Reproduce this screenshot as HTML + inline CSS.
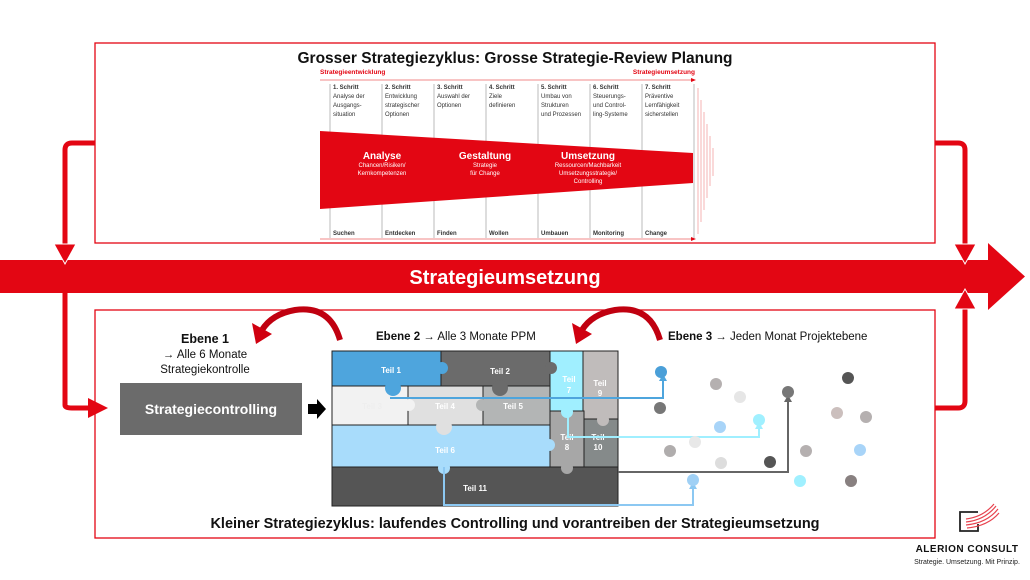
<!DOCTYPE html>
<html><head><meta charset="utf-8"><style>
html,body{margin:0;padding:0;background:#fff;}
svg{display:block;font-family:"Liberation Sans",Arial,sans-serif;}
</style></head><body>
<svg width="1030" height="580" viewBox="0 0 1030 580" xmlns="http://www.w3.org/2000/svg">
<!-- boxes -->
<rect x="95" y="43" width="840" height="200" fill="none" stroke="#e30613" stroke-width="1.3"/>
<rect x="95" y="310" width="840" height="228" fill="none" stroke="#e30613" stroke-width="1.3"/>
<!-- banner -->
<rect x="0" y="260" width="990" height="33" fill="#e30613"/>
<polygon points="988,243 1025,276.5 988,310" fill="#e30613"/>
<text x="505" y="284" text-anchor="middle" fill="#fff" font-weight="bold" font-size="20">Strategieumsetzung</text>
<!-- left connector -->
<path d="M95,143 H72 Q65,143 65,150 V405 Q65,408 72,408 H90" fill="none" stroke="#e30613" stroke-width="5"/>
<polygon points="54,244 76,244 65,264" fill="#e30613" stroke="#fff" stroke-width="1"/>
<polygon points="88,398 108,408 88,418" fill="#e30613"/>
<!-- right connectors -->
<path d="M935,143 H958 Q965,143 965,150 V248" fill="none" stroke="#e30613" stroke-width="5"/>
<polygon points="954,244 976,244 965,264" fill="#e30613" stroke="#fff" stroke-width="1"/>
<path d="M935,408 H958 Q965,408 965,401 V305" fill="none" stroke="#e30613" stroke-width="5"/>
<polygon points="954,309 976,309 965,289" fill="#e30613" stroke="#fff" stroke-width="1"/>
<!-- top title -->
<text x="515" y="63" text-anchor="middle" font-weight="bold" font-size="15.5" fill="#111">Grosser Strategiezyklus: Grosse Strategie-Review Planung</text>
<text x="320" y="74" font-size="6.5" font-weight="bold" fill="#e30613">Strategieentwicklung</text>
<text x="695" y="74" text-anchor="end" font-size="6.5" font-weight="bold" fill="#e30613">Strategieumsetzung</text>
<line x1="320" y1="80" x2="693" y2="80" stroke="#f08a8a" stroke-width="1"/>
<polygon points="691,78 696,80 691,82" fill="#e30613"/>
<line x1="320" y1="239" x2="693" y2="239" stroke="#f08a8a" stroke-width="1"/>
<polygon points="691,237 696,239 691,241" fill="#e30613"/>
<g stroke="#bbb" stroke-width="1">
<line x1="330" y1="84" x2="330" y2="238"/><line x1="382" y1="84" x2="382" y2="238"/><line x1="434" y1="84" x2="434" y2="238"/><line x1="486" y1="84" x2="486" y2="238"/><line x1="538" y1="84" x2="538" y2="238"/><line x1="590" y1="84" x2="590" y2="238"/><line x1="642" y1="84" x2="642" y2="238"/><line x1="694" y1="84" x2="694" y2="238"/>
</g>
<g stroke="#f4a0a0" stroke-width="0.8">
<line x1="698" y1="88" x2="698" y2="234"/><line x1="701" y1="100" x2="701" y2="222"/><line x1="704" y1="112" x2="704" y2="210"/><line x1="707" y1="124" x2="707" y2="198"/><line x1="710" y1="136" x2="710" y2="186"/><line x1="713" y1="148" x2="713" y2="176"/>
</g>
<g font-size="6" fill="#333">
<g font-weight="bold"><text x="333" y="89">1. Schritt</text><text x="385" y="89">2. Schritt</text><text x="437" y="89">3. Schritt</text><text x="489" y="89">4. Schritt</text><text x="541" y="89">5. Schritt</text><text x="593" y="89">6. Schritt</text><text x="645" y="89">7. Schritt</text></g>
<text x="333" y="98">Analyse der</text><text x="333" y="107">Ausgangs-</text><text x="333" y="116">situation</text>
<text x="385" y="98">Entwicklung</text><text x="385" y="107">strategischer</text><text x="385" y="116">Optionen</text>
<text x="437" y="98">Auswahl der</text><text x="437" y="107">Optionen</text>
<text x="489" y="98">Ziele</text><text x="489" y="107">definieren</text>
<text x="541" y="98">Umbau von</text><text x="541" y="107">Strukturen</text><text x="541" y="116">und Prozessen</text>
<text x="593" y="98">Steuerungs-</text><text x="593" y="107">und Control-</text><text x="593" y="116">ling-Systeme</text>
<text x="645" y="98">Präventive</text><text x="645" y="107">Lernfähigkeit</text><text x="645" y="116">sicherstellen</text>
<g font-weight="bold"><text x="333" y="235">Suchen</text><text x="385" y="235">Entdecken</text><text x="437" y="235">Finden</text><text x="489" y="235">Wollen</text><text x="541" y="235">Umbauen</text><text x="593" y="235">Monitoring</text><text x="645" y="235">Change</text></g>
</g>
<polygon points="320,131 693,153 693,183 320,209" fill="#e30613"/>
<g fill="#fff" text-anchor="middle">
<text x="382" y="159" font-size="10" font-weight="bold">Analyse</text>
<text x="382" y="167" font-size="6">Chancen/Risiken/</text><text x="382" y="175" font-size="6">Kernkompetenzen</text>
<text x="485" y="159" font-size="10" font-weight="bold">Gestaltung</text>
<text x="485" y="167" font-size="6">Strategie</text><text x="485" y="175" font-size="6">für Change</text>
<text x="588" y="159" font-size="10" font-weight="bold">Umsetzung</text>
<text x="588" y="167" font-size="6">Ressourcen/Machbarkeit</text><text x="588" y="175" font-size="6">Umsetzungsstrategie/</text><text x="588" y="183" font-size="6">Controlling</text>
</g>
<!-- Ebene texts -->
<text x="205" y="343" text-anchor="middle" font-weight="bold" font-size="12.5" fill="#111">Ebene 1</text>
<text x="205" y="358" text-anchor="middle" font-size="11.5" fill="#111">→ Alle 6 Monate</text>
<text x="205" y="373" text-anchor="middle" font-size="11.5" fill="#111">Strategiekontrolle</text>
<text x="376" y="340" font-size="11.5" fill="#111"><tspan font-weight="bold">Ebene 2</tspan> → Alle 3 Monate PPM</text>
<text x="668" y="340" font-size="11.5" fill="#111"><tspan font-weight="bold">Ebene 3</tspan> → Jeden Monat Projektebene</text>
<!-- curved arrows -->
<path d="M340,340 Q330,305 295,310 Q272,314 262,330" fill="none" stroke="#c00010" stroke-width="6"/>
<polygon points="252,323 272,334 256,344" fill="#d00010"/>
<path d="M660,340 Q650,305 615,310 Q592,314 582,330" fill="none" stroke="#c00010" stroke-width="6"/>
<polygon points="572,323 592,334 576,344" fill="#d00010"/>
<!-- Strategiecontrolling -->
<rect x="120" y="383" width="182" height="52" fill="#6b6b6b"/>
<text x="211" y="414" text-anchor="middle" fill="#fff" font-weight="bold" font-size="14">Strategiecontrolling</text>
<polygon points="308,404 317,404 317,399 326,409 317,419 317,414 308,414" fill="#000"/>
<!-- puzzle -->
<g stroke="#222" stroke-width="1">
<rect x="332" y="351" width="109" height="35" fill="#4ea5dd"/>
<rect x="441" y="351" width="109" height="35" fill="#6b6b6b"/>
<rect x="550" y="351" width="33" height="60" fill="#a0efff"/>
<rect x="583" y="351" width="35" height="68" fill="#c0bcbb"/>
<rect x="332" y="386" width="76" height="39" fill="#f2f2f2"/>
<rect x="408" y="386" width="75" height="39" fill="#e0e0e0"/>
<rect x="483" y="386" width="67" height="39" fill="#b3b5b5"/>
<rect x="332" y="425" width="218" height="42" fill="#a8dcfb"/>
<rect x="550" y="411" width="34" height="56" fill="#a7a7a7"/>
<rect x="584" y="419" width="34" height="48" fill="#858a8a"/>
<rect x="332" y="467" width="286" height="39" fill="#555"/>
</g>
<g>
<circle cx="393" cy="388" r="8" fill="#4ea5dd"/>
<circle cx="442" cy="368" r="6" fill="#4ea5dd"/>
<circle cx="500" cy="388" r="8" fill="#6b6b6b"/>
<circle cx="551" cy="368" r="6" fill="#6b6b6b"/>
<circle cx="567" cy="412" r="6" fill="#a0efff"/>
<circle cx="444" cy="427" r="8" fill="#e0e0e0"/>
<circle cx="409" cy="405" r="6" fill="#f2f2f2"/>
<circle cx="482" cy="405" r="6" fill="#b3b5b5"/>
<circle cx="444" cy="468" r="6" fill="#a8dcfb"/>
<circle cx="549" cy="445" r="6" fill="#a8dcfb"/>
<circle cx="603" cy="420" r="6" fill="#c0bcbb"/>
<circle cx="567" cy="468" r="6" fill="#a7a7a7"/>
</g>
<g fill="#fff" font-weight="bold" font-size="8" text-anchor="middle">
<text x="391" y="373">Teil 1</text><text x="500" y="374">Teil 2</text>
<text x="569" y="382">Teil</text><text x="569" y="393">7</text>
<text x="600" y="386">Teil</text><text x="600" y="396">9</text>
<text x="372" y="409" fill="#eee">Teil 3</text><text x="445" y="409">Teil 4</text><text x="513" y="409">Teil 5</text>
<text x="445" y="453">Teil 6</text>
<text x="567" y="440">Teil</text><text x="567" y="450">8</text>
<text x="598" y="440">Teil</text><text x="598" y="450">10</text>
<text x="475" y="491">Teil 11</text>
</g>
<!-- connector lines -->
<g fill="none" stroke-width="2">
<path d="M390,398 H663 V378" stroke="#4ea5dd"/>
<path d="M568,405 V437 H759 V426" stroke="#a0efff"/>
<path d="M618,472 H788 V398" stroke="#666"/>
<path d="M444,467 V505 H693 V486" stroke="#8cc8f2"/>
</g>
<polygon points="659,381 667,381 663,374" fill="#4ea5dd"/>
<polygon points="755,429 763,429 759,422" fill="#a0efff"/>
<polygon points="784,402 792,402 788,395" fill="#666"/>
<polygon points="689,489 697,489 693,482" fill="#8cc8f2"/>
<!-- dots -->
<circle cx="661" cy="372" r="6" fill="#4a9fd8"/>
<circle cx="660" cy="408" r="6" fill="#777"/>
<circle cx="716" cy="384" r="6" fill="#b5b0b0"/>
<circle cx="740" cy="397" r="6" fill="#e6e6e6"/>
<circle cx="720" cy="427" r="6" fill="#a8d4f8"/>
<circle cx="759" cy="420" r="6" fill="#a0f0ff"/>
<circle cx="670" cy="451" r="6" fill="#b0adad"/>
<circle cx="695" cy="442" r="6" fill="#e8e8e8"/>
<circle cx="721" cy="463" r="6" fill="#dddddd"/>
<circle cx="770" cy="462" r="6" fill="#555"/>
<circle cx="693" cy="480" r="6" fill="#9fd0f5"/>
<circle cx="788" cy="392" r="6" fill="#777"/>
<circle cx="800" cy="481" r="6" fill="#a0f0ff"/>
<circle cx="806" cy="451" r="6" fill="#b5b0b0"/>
<circle cx="848" cy="378" r="6" fill="#555"/>
<circle cx="837" cy="413" r="6" fill="#cbbfbd"/>
<circle cx="866" cy="417" r="6" fill="#b5b0b0"/>
<circle cx="860" cy="450" r="6" fill="#a8d4f8"/>
<circle cx="851" cy="481" r="6" fill="#888080"/>
<!-- bottom title -->
<text x="515" y="528" text-anchor="middle" font-weight="bold" font-size="14.5" fill="#111">Kleiner Strategiezyklus: laufendes Controlling und vorantreiben der Strategieumsetzung</text>
<!-- logo -->
<path d="M978,512 H960 V531 H978 V524" fill="none" stroke="#222" stroke-width="1.8"/>
<g fill="none" stroke="#e8434f" stroke-width="1.2">
<path d="M966,522 Q985,520 996,506"/><path d="M966,525 Q987,523 998,509"/><path d="M966,519 Q983,517 994,504"/><path d="M967,528 Q988,526 999,513"/>
</g>
<text x="967" y="552" text-anchor="middle" font-weight="bold" font-size="10" fill="#111" letter-spacing="0.5">ALERION CONSULT</text>
<text x="967" y="564" text-anchor="middle" font-size="7" fill="#222">Strategie. Umsetzung. Mit Prinzip.</text>
</svg>
</body></html>
